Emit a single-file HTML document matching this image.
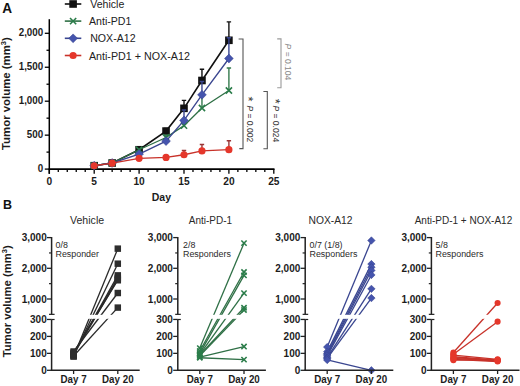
<!DOCTYPE html>
<html><head><meta charset="utf-8"><style>
html,body{margin:0;padding:0;background:#fff;}
svg{display:block;}
text{font-family:"Liberation Sans", sans-serif;}
</style></head><body>
<svg width="520" height="386" viewBox="0 0 520 386" font-family='"Liberation Sans", sans-serif'>
<rect width="520" height="386" fill="#fff"/>
<path d="M49.3,19.2 V173.8" stroke="#000" stroke-width="1.5" fill="none"/>
<path d="M48.599999999999994,169.1 H274.5" stroke="#000" stroke-width="1.6" fill="none"/>
<path d="M44.8,169.10 H49.3" stroke="#000" stroke-width="1.3"/>
<text transform="translate(43.20,171.80) scale(1.0,1.06)" font-size="9.8" text-anchor="end" font-weight="bold" fill="#1c1c1c">0</text>
<path d="M46.5,152.12 H49.3" stroke="#000" stroke-width="1.3"/>
<path d="M44.8,135.15 H49.3" stroke="#000" stroke-width="1.3"/>
<text transform="translate(43.20,137.85) scale(1.0,1.06)" font-size="9.8" text-anchor="end" font-weight="bold" fill="#1c1c1c">500</text>
<path d="M46.5,118.17 H49.3" stroke="#000" stroke-width="1.3"/>
<path d="M44.8,101.20 H49.3" stroke="#000" stroke-width="1.3"/>
<text transform="translate(43.20,103.90) scale(1.0,1.06)" font-size="9.8" text-anchor="end" font-weight="bold" fill="#1c1c1c">1,000</text>
<path d="M46.5,84.22 H49.3" stroke="#000" stroke-width="1.3"/>
<path d="M44.8,67.25 H49.3" stroke="#000" stroke-width="1.3"/>
<text transform="translate(43.20,69.95) scale(1.0,1.06)" font-size="9.8" text-anchor="end" font-weight="bold" fill="#1c1c1c">1,500</text>
<path d="M46.5,50.27 H49.3" stroke="#000" stroke-width="1.3"/>
<path d="M44.8,33.30 H49.3" stroke="#000" stroke-width="1.3"/>
<text transform="translate(43.20,36.00) scale(1.0,1.06)" font-size="9.8" text-anchor="end" font-weight="bold" fill="#1c1c1c">2,000</text>
<path d="M49.30,169.1 V173.8" stroke="#000" stroke-width="1.3"/>
<text transform="translate(49.30,184.80)" font-size="10.2" text-anchor="middle" font-weight="bold" fill="#1c1c1c">0</text>
<path d="M58.28,169.1 V171.9" stroke="#000" stroke-width="1.3"/>
<path d="M67.26,169.1 V171.9" stroke="#000" stroke-width="1.3"/>
<path d="M76.24,169.1 V171.9" stroke="#000" stroke-width="1.3"/>
<path d="M85.22,169.1 V171.9" stroke="#000" stroke-width="1.3"/>
<path d="M94.20,169.1 V173.8" stroke="#000" stroke-width="1.3"/>
<text transform="translate(94.20,184.80)" font-size="10.2" text-anchor="middle" font-weight="bold" fill="#1c1c1c">5</text>
<path d="M103.18,169.1 V171.9" stroke="#000" stroke-width="1.3"/>
<path d="M112.16,169.1 V171.9" stroke="#000" stroke-width="1.3"/>
<path d="M121.14,169.1 V171.9" stroke="#000" stroke-width="1.3"/>
<path d="M130.12,169.1 V171.9" stroke="#000" stroke-width="1.3"/>
<path d="M139.10,169.1 V173.8" stroke="#000" stroke-width="1.3"/>
<text transform="translate(139.10,184.80)" font-size="10.2" text-anchor="middle" font-weight="bold" fill="#1c1c1c">10</text>
<path d="M148.08,169.1 V171.9" stroke="#000" stroke-width="1.3"/>
<path d="M157.06,169.1 V171.9" stroke="#000" stroke-width="1.3"/>
<path d="M166.04,169.1 V171.9" stroke="#000" stroke-width="1.3"/>
<path d="M175.02,169.1 V171.9" stroke="#000" stroke-width="1.3"/>
<path d="M184.00,169.1 V173.8" stroke="#000" stroke-width="1.3"/>
<text transform="translate(184.00,184.80)" font-size="10.2" text-anchor="middle" font-weight="bold" fill="#1c1c1c">15</text>
<path d="M192.98,169.1 V171.9" stroke="#000" stroke-width="1.3"/>
<path d="M201.96,169.1 V171.9" stroke="#000" stroke-width="1.3"/>
<path d="M210.94,169.1 V171.9" stroke="#000" stroke-width="1.3"/>
<path d="M219.92,169.1 V171.9" stroke="#000" stroke-width="1.3"/>
<path d="M228.90,169.1 V173.8" stroke="#000" stroke-width="1.3"/>
<text transform="translate(228.90,184.80)" font-size="10.2" text-anchor="middle" font-weight="bold" fill="#1c1c1c">20</text>
<path d="M237.88,169.1 V171.9" stroke="#000" stroke-width="1.3"/>
<path d="M246.86,169.1 V171.9" stroke="#000" stroke-width="1.3"/>
<path d="M255.84,169.1 V171.9" stroke="#000" stroke-width="1.3"/>
<path d="M264.82,169.1 V171.9" stroke="#000" stroke-width="1.3"/>
<path d="M273.80,169.1 V173.8" stroke="#000" stroke-width="1.3"/>
<text transform="translate(273.80,184.80)" font-size="10.2" text-anchor="middle" font-weight="bold" fill="#1c1c1c">25</text>
<text transform="translate(161.40,200.60)" font-size="10.5" text-anchor="middle" font-weight="bold" fill="#1c1c1c">Day</text>
<text transform="translate(10.40,93.60) rotate(-90)" font-size="11.4" text-anchor="middle" font-weight="bold" fill="#1c1c1c">Tumor volume (mm<tspan font-size="7.5" dy="-4">3</tspan><tspan dy="4">)</tspan></text>
<text transform="translate(2.20,13.00) scale(1.0,1.04)" font-size="13.6" font-weight="bold" fill="#111">A</text>
<path d="M139.10,149.75 V148.05 M136.90,148.05 H141.30" stroke="#111" stroke-width="1.4" fill="none"/>
<path d="M166.04,131.08 V128.36 M163.84,128.36 H168.24" stroke="#111" stroke-width="1.4" fill="none"/>
<path d="M184.00,108.33 V100.39 M181.80,100.39 H186.20" stroke="#111" stroke-width="1.4" fill="none"/>
<path d="M201.96,80.49 V69.29 M199.76,69.29 H204.16" stroke="#111" stroke-width="1.4" fill="none"/>
<path d="M228.90,40.29 V21.89 M226.70,21.89 H231.10" stroke="#111" stroke-width="1.4" fill="none"/>
<polyline points="94.20,165.70 112.16,162.99 139.10,149.75 166.04,131.08 184.00,108.33 201.96,80.49 228.90,40.29" stroke="#111" stroke-width="1.6" fill="none"/>
<rect x="90.40" y="161.90" width="7.60" height="7.60" fill="#111"/>
<rect x="108.36" y="159.19" width="7.60" height="7.60" fill="#111"/>
<rect x="135.30" y="145.95" width="7.60" height="7.60" fill="#111"/>
<rect x="162.24" y="127.28" width="7.60" height="7.60" fill="#111"/>
<rect x="180.20" y="104.53" width="7.60" height="7.60" fill="#111"/>
<rect x="198.16" y="76.69" width="7.60" height="7.60" fill="#111"/>
<rect x="225.10" y="36.49" width="7.60" height="7.60" fill="#111"/>
<path d="M166.04,137.53 V135.15 M163.84,135.15 H168.24" stroke="#357a4e" stroke-width="1.4" fill="none"/>
<path d="M184.00,125.64 V120.21 M181.80,120.21 H186.20" stroke="#357a4e" stroke-width="1.4" fill="none"/>
<path d="M201.96,107.99 V95.09 M199.76,95.09 H204.16" stroke="#357a4e" stroke-width="1.4" fill="none"/>
<path d="M228.90,90.47 V68.06 M226.70,68.06 H231.10" stroke="#357a4e" stroke-width="1.4" fill="none"/>
<polyline points="94.20,165.70 112.16,162.99 139.10,149.75 166.04,137.53 184.00,125.64 201.96,107.99 228.90,90.47" stroke="#2f7046" stroke-width="1.35" fill="none"/>
<path d="M91.10,162.60 L97.30,168.80 M91.10,168.80 L97.30,162.60" stroke="#2b7d4a" stroke-width="1.6" fill="none"/>
<path d="M109.06,159.89 L115.26,166.09 M109.06,166.09 L115.26,159.89" stroke="#2b7d4a" stroke-width="1.6" fill="none"/>
<path d="M136.00,146.65 L142.20,152.85 M136.00,152.85 L142.20,146.65" stroke="#2b7d4a" stroke-width="1.6" fill="none"/>
<path d="M162.94,134.43 L169.14,140.63 M162.94,140.63 L169.14,134.43" stroke="#2b7d4a" stroke-width="1.6" fill="none"/>
<path d="M180.90,122.54 L187.10,128.74 M180.90,128.74 L187.10,122.54" stroke="#2b7d4a" stroke-width="1.6" fill="none"/>
<path d="M198.86,104.89 L205.06,111.09 M198.86,111.09 L205.06,104.89" stroke="#2b7d4a" stroke-width="1.6" fill="none"/>
<path d="M225.80,87.37 L232.00,93.57 M225.80,93.57 L232.00,87.37" stroke="#2b7d4a" stroke-width="1.6" fill="none"/>
<path d="M166.04,141.13 V139.22 M163.84,139.22 H168.24" stroke="#3a4690" stroke-width="1.4" fill="none"/>
<path d="M184.00,120.42 V110.03 M181.80,110.03 H186.20" stroke="#3a4690" stroke-width="1.4" fill="none"/>
<path d="M201.96,94.82 V81.51 M199.76,81.51 H204.16" stroke="#3a4690" stroke-width="1.4" fill="none"/>
<path d="M228.90,58.49 V37.71 M226.70,37.71 H231.10" stroke="#3a4690" stroke-width="1.4" fill="none"/>
<polyline points="94.20,165.70 112.16,162.99 139.10,154.03 166.04,141.13 184.00,120.42 201.96,94.82 228.90,58.49" stroke="#3a4690" stroke-width="1.35" fill="none"/>
<path d="M94.20,161.30 L98.60,165.70 L94.20,170.10 L89.80,165.70 Z" fill="#4554ad" stroke="#34408a" stroke-width="0.5"/>
<path d="M112.16,158.59 L116.56,162.99 L112.16,167.39 L107.76,162.99 Z" fill="#4554ad" stroke="#34408a" stroke-width="0.5"/>
<path d="M139.10,149.63 L143.50,154.03 L139.10,158.43 L134.70,154.03 Z" fill="#4554ad" stroke="#34408a" stroke-width="0.5"/>
<path d="M166.04,136.73 L170.44,141.13 L166.04,145.53 L161.64,141.13 Z" fill="#4554ad" stroke="#34408a" stroke-width="0.5"/>
<path d="M184.00,116.02 L188.40,120.42 L184.00,124.82 L179.60,120.42 Z" fill="#4554ad" stroke="#34408a" stroke-width="0.5"/>
<path d="M201.96,90.42 L206.36,94.82 L201.96,99.22 L197.56,94.82 Z" fill="#4554ad" stroke="#34408a" stroke-width="0.5"/>
<path d="M228.90,54.09 L233.30,58.49 L228.90,62.89 L224.50,58.49 Z" fill="#4554ad" stroke="#34408a" stroke-width="0.5"/>
<path d="M184.00,154.77 V150.50 M181.80,150.50 H186.20" stroke="#9a3535" stroke-width="1.4" fill="none"/>
<path d="M201.96,150.90 V144.52 M199.76,144.52 H204.16" stroke="#9a3535" stroke-width="1.4" fill="none"/>
<path d="M228.90,149.68 V140.79 M226.70,140.79 H231.10" stroke="#9a3535" stroke-width="1.4" fill="none"/>
<polyline points="94.20,165.77 112.16,163.19 139.10,158.37 166.04,157.42 184.00,154.77 201.96,150.90 228.90,149.68" stroke="#c8322a" stroke-width="1.35" fill="none"/>
<circle cx="94.20" cy="165.77" r="3.60" fill="#e5372b"/>
<circle cx="112.16" cy="163.19" r="3.60" fill="#e5372b"/>
<circle cx="139.10" cy="158.37" r="3.60" fill="#e5372b"/>
<circle cx="166.04" cy="157.42" r="3.60" fill="#e5372b"/>
<circle cx="184.00" cy="154.77" r="3.60" fill="#e5372b"/>
<circle cx="201.96" cy="150.90" r="3.60" fill="#e5372b"/>
<circle cx="228.90" cy="149.68" r="3.60" fill="#e5372b"/>
<path d="M64.8,4.0 H81.3" stroke="#111" stroke-width="1.6"/>
<rect x="69.30" y="0.20" width="7.60" height="7.60" fill="#111"/>
<text transform="translate(90.20,8.00)" font-size="10.6" fill="#222">Vehicle</text>
<path d="M64.8,21.1 H81.3" stroke="#2f7046" stroke-width="1.6"/>
<path d="M70.00,18.00 L76.20,24.20 M70.00,24.20 L76.20,18.00" stroke="#2b7d4a" stroke-width="1.6" fill="none"/>
<text transform="translate(89.00,25.10)" font-size="10.6" fill="#222">Anti-PD1</text>
<path d="M64.8,38.3 H81.3" stroke="#3a4690" stroke-width="1.6"/>
<path d="M73.10,33.90 L77.50,38.30 L73.10,42.70 L68.70,38.30 Z" fill="#4554ad" stroke="#34408a" stroke-width="0.5"/>
<text transform="translate(90.20,42.30)" font-size="10.6" fill="#222">NOX-A12</text>
<path d="M64.8,55.5 H81.3" stroke="#c8322a" stroke-width="1.6"/>
<circle cx="73.10" cy="55.50" r="3.60" fill="#e5372b"/>
<text transform="translate(88.90,59.50) scale(1.012,1.0)" font-size="10.6" fill="#222">Anti-PD1 + NOX-A12</text>
<path d="M238.6,39.0 H243 V148.6 H239.3" stroke="#555" stroke-width="1.1" fill="none"/>
<path d="M277.2,38.9 H281 V87.8 H277.2" stroke="#9a9a9a" stroke-width="1.1" fill="none"/>
<path d="M263.4,91.5 H267.3 V148.8 H263.4" stroke="#555" stroke-width="1.1" fill="none"/>
<text transform="translate(246.50,105.50) rotate(90)" font-size="8.5" fill="#333"><tspan font-style="italic">P</tspan> = 0.002</text>
<text transform="translate(272.70,105.50) rotate(90)" font-size="8.5" fill="#333"><tspan font-style="italic">P</tspan> = 0.024</text>
<text transform="translate(285.00,43.60) rotate(90)" font-size="8.5" fill="#888"><tspan font-style="italic">P</tspan> = 0.104</text>
<text transform="translate(243.70,96.50) rotate(90)" font-size="13" fill="#333">*</text>
<text transform="translate(270.70,98.80) rotate(90)" font-size="13" fill="#333">*</text>
<text transform="translate(3.00,209.00)" font-size="12.5" font-weight="bold" fill="#111">B</text>
<text transform="translate(11.30,301.30) rotate(-90)" font-size="11.3" text-anchor="middle" font-weight="bold" fill="#1c1c1c">Tumor volume (mm<tspan font-size="7.5" dy="-4">3</tspan><tspan dy="4">)</tspan></text>
<path d="M73.60,356.57 L117.80,248.65" stroke="#2a2a2a" stroke-width="1.3" fill="none"/>
<path d="M73.60,355.38 L117.80,263.69" stroke="#2a2a2a" stroke-width="1.3" fill="none"/>
<path d="M73.60,354.20 L117.80,275.36" stroke="#2a2a2a" stroke-width="1.3" fill="none"/>
<path d="M73.60,353.35 L117.80,277.82" stroke="#2a2a2a" stroke-width="1.3" fill="none"/>
<path d="M73.60,352.50 L117.80,280.27" stroke="#2a2a2a" stroke-width="1.3" fill="none"/>
<path d="M73.60,351.49 L117.80,293.01" stroke="#2a2a2a" stroke-width="1.3" fill="none"/>
<path d="M73.60,356.06 L117.80,307.60" stroke="#2a2a2a" stroke-width="1.3" fill="none"/>
<path d="M73.60,354.71 L117.80,279.05" stroke="#2a2a2a" stroke-width="1.3" fill="none"/>
<rect x="55.10" y="314.8" width="86.00" height="4.0" fill="#fff"/>
<rect x="70.37" y="353.34" width="6.46" height="6.46" fill="#2e2e2e"/>
<rect x="70.37" y="352.15" width="6.46" height="6.46" fill="#2e2e2e"/>
<rect x="70.37" y="350.97" width="6.46" height="6.46" fill="#2e2e2e"/>
<rect x="70.37" y="350.12" width="6.46" height="6.46" fill="#2e2e2e"/>
<rect x="70.37" y="349.27" width="6.46" height="6.46" fill="#2e2e2e"/>
<rect x="70.37" y="348.26" width="6.46" height="6.46" fill="#2e2e2e"/>
<rect x="70.37" y="352.83" width="6.46" height="6.46" fill="#2e2e2e"/>
<rect x="70.37" y="351.48" width="6.46" height="6.46" fill="#2e2e2e"/>
<rect x="114.57" y="245.42" width="6.46" height="6.46" fill="#2e2e2e"/>
<rect x="114.57" y="260.46" width="6.46" height="6.46" fill="#2e2e2e"/>
<rect x="114.57" y="272.13" width="6.46" height="6.46" fill="#2e2e2e"/>
<rect x="114.57" y="274.59" width="6.46" height="6.46" fill="#2e2e2e"/>
<rect x="114.57" y="277.04" width="6.46" height="6.46" fill="#2e2e2e"/>
<rect x="114.57" y="289.78" width="6.46" height="6.46" fill="#2e2e2e"/>
<rect x="114.57" y="304.37" width="6.46" height="6.46" fill="#2e2e2e"/>
<rect x="114.57" y="275.81" width="6.46" height="6.46" fill="#2e2e2e"/>
<path d="M51.6,237.0 V314.35 M51.6,319.5 V370.3" stroke="#222" stroke-width="1.5" fill="none"/>
<path d="M49.0,314.35 H54.6" stroke="#222" stroke-width="1.2"/>
<path d="M50.9,370.3 H139.7" stroke="#222" stroke-width="1.5"/>
<path d="M47.0,237.60 H51.6" stroke="#222" stroke-width="1.3"/>
<text transform="translate(46.70,241.20)" font-size="10.0" text-anchor="end" font-weight="bold" fill="#1c1c1c">3,000</text>
<path d="M47.0,268.30 H51.6" stroke="#222" stroke-width="1.3"/>
<text transform="translate(46.70,271.90)" font-size="10.0" text-anchor="end" font-weight="bold" fill="#1c1c1c">2,000</text>
<path d="M47.0,299.00 H51.6" stroke="#222" stroke-width="1.3"/>
<text transform="translate(46.70,302.60)" font-size="10.0" text-anchor="end" font-weight="bold" fill="#1c1c1c">1,000</text>
<path d="M49.0,252.95 H51.6" stroke="#222" stroke-width="1.2"/>
<path d="M49.0,283.65 H51.6" stroke="#222" stroke-width="1.2"/>
<path d="M47.0,319.45 H51.6" stroke="#222" stroke-width="1.3"/>
<text transform="translate(46.70,323.05)" font-size="10.0" text-anchor="end" font-weight="bold" fill="#1c1c1c">300</text>
<path d="M47.0,336.40 H51.6" stroke="#222" stroke-width="1.3"/>
<text transform="translate(46.70,340.00)" font-size="10.0" text-anchor="end" font-weight="bold" fill="#1c1c1c">200</text>
<path d="M47.0,353.35 H51.6" stroke="#222" stroke-width="1.3"/>
<text transform="translate(46.70,356.95)" font-size="10.0" text-anchor="end" font-weight="bold" fill="#1c1c1c">100</text>
<path d="M47.0,370.30 H51.6" stroke="#222" stroke-width="1.3"/>
<text transform="translate(46.70,373.90)" font-size="10.0" text-anchor="end" font-weight="bold" fill="#1c1c1c">0</text>
<path d="M51.6,319.5 H54.6" stroke="#222" stroke-width="1.2"/>
<path d="M73.60,370.3 V374" stroke="#222" stroke-width="1.3"/>
<text transform="translate(73.60,383.20) scale(1.0,1.15)" font-size="9.8" text-anchor="middle" font-weight="bold" fill="#1c1c1c">Day 7</text>
<path d="M117.80,370.3 V374" stroke="#222" stroke-width="1.3"/>
<text transform="translate(117.80,383.20) scale(1.0,1.15)" font-size="9.8" text-anchor="middle" font-weight="bold" fill="#1c1c1c">Day 20</text>
<text transform="translate(70.00,223.90) scale(1.06,1.0)" font-size="10" fill="#2a2a2a">Vehicle</text>
<text transform="translate(55.50,248.00)" font-size="8.9" fill="#2a2a2a">0/8</text>
<text transform="translate(55.50,256.70)" font-size="8.9" fill="#2a2a2a">Responder</text>
<path d="M199.80,348.10 L244.00,243.13" stroke="#2f7046" stroke-width="1.3" fill="none"/>
<path d="M199.80,350.98 L244.00,271.98" stroke="#2f7046" stroke-width="1.3" fill="none"/>
<path d="M199.80,353.35 L244.00,275.36" stroke="#2f7046" stroke-width="1.3" fill="none"/>
<path d="M199.80,354.37 L244.00,293.17" stroke="#2f7046" stroke-width="1.3" fill="none"/>
<path d="M199.80,355.05 L244.00,307.75" stroke="#2f7046" stroke-width="1.3" fill="none"/>
<path d="M199.80,355.89 L244.00,310.05" stroke="#2f7046" stroke-width="1.3" fill="none"/>
<path d="M199.80,357.08 L244.00,346.57" stroke="#2f7046" stroke-width="1.3" fill="none"/>
<path d="M199.80,357.76 L244.00,359.62" stroke="#2f7046" stroke-width="1.3" fill="none"/>
<rect x="181.30" y="314.8" width="86.00" height="4.0" fill="#fff"/>
<path d="M197.17,345.46 L202.44,350.73 M197.17,350.73 L202.44,345.46" stroke="#2b7d4a" stroke-width="1.6" fill="none"/>
<path d="M197.17,348.34 L202.44,353.61 M197.17,353.61 L202.44,348.34" stroke="#2b7d4a" stroke-width="1.6" fill="none"/>
<path d="M197.17,350.72 L202.44,355.99 M197.17,355.99 L202.44,350.72" stroke="#2b7d4a" stroke-width="1.6" fill="none"/>
<path d="M197.17,351.73 L202.44,357.00 M197.17,357.00 L202.44,351.73" stroke="#2b7d4a" stroke-width="1.6" fill="none"/>
<path d="M197.17,352.41 L202.44,357.68 M197.17,357.68 L202.44,352.41" stroke="#2b7d4a" stroke-width="1.6" fill="none"/>
<path d="M197.17,353.26 L202.44,358.53 M197.17,358.53 L202.44,353.26" stroke="#2b7d4a" stroke-width="1.6" fill="none"/>
<path d="M197.17,354.44 L202.44,359.71 M197.17,359.71 L202.44,354.44" stroke="#2b7d4a" stroke-width="1.6" fill="none"/>
<path d="M197.17,355.12 L202.44,360.39 M197.17,360.39 L202.44,355.12" stroke="#2b7d4a" stroke-width="1.6" fill="none"/>
<path d="M241.37,240.49 L246.63,245.76 M241.37,245.76 L246.63,240.49" stroke="#2b7d4a" stroke-width="1.6" fill="none"/>
<path d="M241.37,269.35 L246.63,274.62 M241.37,274.62 L246.63,269.35" stroke="#2b7d4a" stroke-width="1.6" fill="none"/>
<path d="M241.37,272.73 L246.63,278.00 M241.37,278.00 L246.63,272.73" stroke="#2b7d4a" stroke-width="1.6" fill="none"/>
<path d="M241.37,290.53 L246.63,295.80 M241.37,295.80 L246.63,290.53" stroke="#2b7d4a" stroke-width="1.6" fill="none"/>
<path d="M241.37,305.11 L246.63,310.38 M241.37,310.38 L246.63,305.11" stroke="#2b7d4a" stroke-width="1.6" fill="none"/>
<path d="M241.37,307.42 L246.63,312.69 M241.37,312.69 L246.63,307.42" stroke="#2b7d4a" stroke-width="1.6" fill="none"/>
<path d="M241.37,343.94 L246.63,349.20 M241.37,349.20 L246.63,343.94" stroke="#2b7d4a" stroke-width="1.6" fill="none"/>
<path d="M241.37,356.99 L246.63,362.26 M241.37,362.26 L246.63,356.99" stroke="#2b7d4a" stroke-width="1.6" fill="none"/>
<path d="M177.8,237.0 V314.35 M177.8,319.5 V370.3" stroke="#222" stroke-width="1.5" fill="none"/>
<path d="M175.20000000000002,314.35 H180.8" stroke="#222" stroke-width="1.2"/>
<path d="M177.10000000000002,370.3 H265.9" stroke="#222" stroke-width="1.5"/>
<path d="M173.20000000000002,237.60 H177.8" stroke="#222" stroke-width="1.3"/>
<text transform="translate(172.90,241.20)" font-size="10.0" text-anchor="end" font-weight="bold" fill="#1c1c1c">3,000</text>
<path d="M173.20000000000002,268.30 H177.8" stroke="#222" stroke-width="1.3"/>
<text transform="translate(172.90,271.90)" font-size="10.0" text-anchor="end" font-weight="bold" fill="#1c1c1c">2,000</text>
<path d="M173.20000000000002,299.00 H177.8" stroke="#222" stroke-width="1.3"/>
<text transform="translate(172.90,302.60)" font-size="10.0" text-anchor="end" font-weight="bold" fill="#1c1c1c">1,000</text>
<path d="M175.20000000000002,252.95 H177.8" stroke="#222" stroke-width="1.2"/>
<path d="M175.20000000000002,283.65 H177.8" stroke="#222" stroke-width="1.2"/>
<path d="M173.20000000000002,319.45 H177.8" stroke="#222" stroke-width="1.3"/>
<text transform="translate(172.90,323.05)" font-size="10.0" text-anchor="end" font-weight="bold" fill="#1c1c1c">300</text>
<path d="M173.20000000000002,336.40 H177.8" stroke="#222" stroke-width="1.3"/>
<text transform="translate(172.90,340.00)" font-size="10.0" text-anchor="end" font-weight="bold" fill="#1c1c1c">200</text>
<path d="M173.20000000000002,353.35 H177.8" stroke="#222" stroke-width="1.3"/>
<text transform="translate(172.90,356.95)" font-size="10.0" text-anchor="end" font-weight="bold" fill="#1c1c1c">100</text>
<path d="M173.20000000000002,370.30 H177.8" stroke="#222" stroke-width="1.3"/>
<text transform="translate(172.90,373.90)" font-size="10.0" text-anchor="end" font-weight="bold" fill="#1c1c1c">0</text>
<path d="M177.8,319.5 H180.8" stroke="#222" stroke-width="1.2"/>
<path d="M199.80,370.3 V374" stroke="#222" stroke-width="1.3"/>
<text transform="translate(199.80,383.20) scale(1.0,1.15)" font-size="9.8" text-anchor="middle" font-weight="bold" fill="#1c1c1c">Day 7</text>
<path d="M244.00,370.3 V374" stroke="#222" stroke-width="1.3"/>
<text transform="translate(244.00,383.20) scale(1.0,1.15)" font-size="9.8" text-anchor="middle" font-weight="bold" fill="#1c1c1c">Day 20</text>
<text transform="translate(188.80,223.90)" font-size="10" fill="#2a2a2a">Anti-PD-1</text>
<text transform="translate(183.00,248.00)" font-size="8.9" fill="#2a2a2a">2/8</text>
<text transform="translate(183.00,256.70)" font-size="8.9" fill="#2a2a2a">Responders</text>
<path d="M327.20,347.08 L371.40,240.52" stroke="#3a4690" stroke-width="1.3" fill="none"/>
<path d="M327.20,351.66 L371.40,264.09" stroke="#3a4690" stroke-width="1.3" fill="none"/>
<path d="M327.20,353.52 L371.40,267.23" stroke="#3a4690" stroke-width="1.3" fill="none"/>
<path d="M327.20,354.71 L371.40,270.39" stroke="#3a4690" stroke-width="1.3" fill="none"/>
<path d="M327.20,355.89 L371.40,274.96" stroke="#3a4690" stroke-width="1.3" fill="none"/>
<path d="M327.20,357.59 L371.40,288.87" stroke="#3a4690" stroke-width="1.3" fill="none"/>
<path d="M327.20,358.44 L371.40,298.08" stroke="#3a4690" stroke-width="1.3" fill="none"/>
<path d="M327.20,359.96 L371.40,370.30" stroke="#3a4690" stroke-width="1.3" fill="none"/>
<rect x="308.70" y="314.8" width="86.00" height="4.0" fill="#fff"/>
<path d="M327.20,343.34 L330.94,347.08 L327.20,350.82 L323.46,347.08 Z" fill="#4554ad" stroke="#34408a" stroke-width="0.5"/>
<path d="M327.20,347.92 L330.94,351.66 L327.20,355.40 L323.46,351.66 Z" fill="#4554ad" stroke="#34408a" stroke-width="0.5"/>
<path d="M327.20,349.78 L330.94,353.52 L327.20,357.26 L323.46,353.52 Z" fill="#4554ad" stroke="#34408a" stroke-width="0.5"/>
<path d="M327.20,350.97 L330.94,354.71 L327.20,358.45 L323.46,354.71 Z" fill="#4554ad" stroke="#34408a" stroke-width="0.5"/>
<path d="M327.20,352.15 L330.94,355.89 L327.20,359.63 L323.46,355.89 Z" fill="#4554ad" stroke="#34408a" stroke-width="0.5"/>
<path d="M327.20,353.85 L330.94,357.59 L327.20,361.33 L323.46,357.59 Z" fill="#4554ad" stroke="#34408a" stroke-width="0.5"/>
<path d="M327.20,354.69 L330.94,358.44 L327.20,362.18 L323.46,358.44 Z" fill="#4554ad" stroke="#34408a" stroke-width="0.5"/>
<path d="M327.20,356.22 L330.94,359.96 L327.20,363.70 L323.46,359.96 Z" fill="#4554ad" stroke="#34408a" stroke-width="0.5"/>
<path d="M371.40,236.78 L375.14,240.52 L371.40,244.26 L367.66,240.52 Z" fill="#4554ad" stroke="#34408a" stroke-width="0.5"/>
<path d="M371.40,260.35 L375.14,264.09 L371.40,267.83 L367.66,264.09 Z" fill="#4554ad" stroke="#34408a" stroke-width="0.5"/>
<path d="M371.40,263.49 L375.14,267.23 L371.40,270.97 L367.66,267.23 Z" fill="#4554ad" stroke="#34408a" stroke-width="0.5"/>
<path d="M371.40,266.65 L375.14,270.39 L371.40,274.13 L367.66,270.39 Z" fill="#4554ad" stroke="#34408a" stroke-width="0.5"/>
<path d="M371.40,271.22 L375.14,274.96 L371.40,278.70 L367.66,274.96 Z" fill="#4554ad" stroke="#34408a" stroke-width="0.5"/>
<path d="M371.40,285.13 L375.14,288.87 L371.40,292.61 L367.66,288.87 Z" fill="#4554ad" stroke="#34408a" stroke-width="0.5"/>
<path d="M371.40,294.34 L375.14,298.08 L371.40,301.82 L367.66,298.08 Z" fill="#4554ad" stroke="#34408a" stroke-width="0.5"/>
<path d="M371.40,366.56 L375.14,370.30 L371.40,374.04 L367.66,370.30 Z" fill="#4554ad" stroke="#34408a" stroke-width="0.5"/>
<path d="M305.2,237.0 V314.35 M305.2,319.5 V370.3" stroke="#222" stroke-width="1.5" fill="none"/>
<path d="M302.59999999999997,314.35 H308.2" stroke="#222" stroke-width="1.2"/>
<path d="M304.5,370.3 H393.29999999999995" stroke="#222" stroke-width="1.5"/>
<path d="M300.59999999999997,237.60 H305.2" stroke="#222" stroke-width="1.3"/>
<text transform="translate(300.30,241.20)" font-size="10.0" text-anchor="end" font-weight="bold" fill="#1c1c1c">3,000</text>
<path d="M300.59999999999997,268.30 H305.2" stroke="#222" stroke-width="1.3"/>
<text transform="translate(300.30,271.90)" font-size="10.0" text-anchor="end" font-weight="bold" fill="#1c1c1c">2,000</text>
<path d="M300.59999999999997,299.00 H305.2" stroke="#222" stroke-width="1.3"/>
<text transform="translate(300.30,302.60)" font-size="10.0" text-anchor="end" font-weight="bold" fill="#1c1c1c">1,000</text>
<path d="M302.59999999999997,252.95 H305.2" stroke="#222" stroke-width="1.2"/>
<path d="M302.59999999999997,283.65 H305.2" stroke="#222" stroke-width="1.2"/>
<path d="M300.59999999999997,319.45 H305.2" stroke="#222" stroke-width="1.3"/>
<text transform="translate(300.30,323.05)" font-size="10.0" text-anchor="end" font-weight="bold" fill="#1c1c1c">300</text>
<path d="M300.59999999999997,336.40 H305.2" stroke="#222" stroke-width="1.3"/>
<text transform="translate(300.30,340.00)" font-size="10.0" text-anchor="end" font-weight="bold" fill="#1c1c1c">200</text>
<path d="M300.59999999999997,353.35 H305.2" stroke="#222" stroke-width="1.3"/>
<text transform="translate(300.30,356.95)" font-size="10.0" text-anchor="end" font-weight="bold" fill="#1c1c1c">100</text>
<path d="M300.59999999999997,370.30 H305.2" stroke="#222" stroke-width="1.3"/>
<text transform="translate(300.30,373.90)" font-size="10.0" text-anchor="end" font-weight="bold" fill="#1c1c1c">0</text>
<path d="M305.2,319.5 H308.2" stroke="#222" stroke-width="1.2"/>
<path d="M327.20,370.3 V374" stroke="#222" stroke-width="1.3"/>
<text transform="translate(327.20,383.20) scale(1.0,1.15)" font-size="9.8" text-anchor="middle" font-weight="bold" fill="#1c1c1c">Day 7</text>
<path d="M371.40,370.3 V374" stroke="#222" stroke-width="1.3"/>
<text transform="translate(371.40,383.20) scale(1.0,1.15)" font-size="9.8" text-anchor="middle" font-weight="bold" fill="#1c1c1c">Day 20</text>
<text transform="translate(308.50,223.90) scale(1.03,1.0)" font-size="10" fill="#2a2a2a">NOX-A12</text>
<text transform="translate(309.50,248.00)" font-size="8.9" fill="#2a2a2a">0/7 (1/8)</text>
<text transform="translate(309.50,256.70)" font-size="8.9" fill="#2a2a2a">Responders</text>
<path d="M453.40,352.50 L497.60,303.05" stroke="#c8322a" stroke-width="1.3" fill="none"/>
<path d="M453.40,354.20 L497.60,321.65" stroke="#c8322a" stroke-width="1.3" fill="none"/>
<path d="M453.40,355.05 L497.60,359.28" stroke="#c8322a" stroke-width="1.3" fill="none"/>
<path d="M453.40,356.74 L497.60,360.13" stroke="#c8322a" stroke-width="1.3" fill="none"/>
<path d="M453.40,357.59 L497.60,360.47" stroke="#c8322a" stroke-width="1.3" fill="none"/>
<path d="M453.40,358.44 L497.60,360.98" stroke="#c8322a" stroke-width="1.3" fill="none"/>
<path d="M453.40,359.28 L497.60,361.49" stroke="#c8322a" stroke-width="1.3" fill="none"/>
<path d="M453.40,360.13 L497.60,359.79" stroke="#c8322a" stroke-width="1.3" fill="none"/>
<rect x="434.90" y="314.8" width="86.00" height="4.0" fill="#fff"/>
<circle cx="453.40" cy="352.50" r="3.06" fill="#e5372b"/>
<circle cx="453.40" cy="354.20" r="3.06" fill="#e5372b"/>
<circle cx="453.40" cy="355.05" r="3.06" fill="#e5372b"/>
<circle cx="453.40" cy="356.74" r="3.06" fill="#e5372b"/>
<circle cx="453.40" cy="357.59" r="3.06" fill="#e5372b"/>
<circle cx="453.40" cy="358.44" r="3.06" fill="#e5372b"/>
<circle cx="453.40" cy="359.28" r="3.06" fill="#e5372b"/>
<circle cx="453.40" cy="360.13" r="3.06" fill="#e5372b"/>
<circle cx="497.60" cy="303.05" r="3.06" fill="#e5372b"/>
<circle cx="497.60" cy="321.65" r="3.06" fill="#e5372b"/>
<circle cx="497.60" cy="359.28" r="3.06" fill="#e5372b"/>
<circle cx="497.60" cy="360.13" r="3.06" fill="#e5372b"/>
<circle cx="497.60" cy="360.47" r="3.06" fill="#e5372b"/>
<circle cx="497.60" cy="360.98" r="3.06" fill="#e5372b"/>
<circle cx="497.60" cy="361.49" r="3.06" fill="#e5372b"/>
<circle cx="497.60" cy="359.79" r="3.06" fill="#e5372b"/>
<path d="M431.4,237.0 V314.35 M431.4,319.5 V370.3" stroke="#222" stroke-width="1.5" fill="none"/>
<path d="M428.79999999999995,314.35 H434.4" stroke="#222" stroke-width="1.2"/>
<path d="M430.7,370.3 H519.5" stroke="#222" stroke-width="1.5"/>
<path d="M426.79999999999995,237.60 H431.4" stroke="#222" stroke-width="1.3"/>
<text transform="translate(426.50,241.20)" font-size="10.0" text-anchor="end" font-weight="bold" fill="#1c1c1c">3,000</text>
<path d="M426.79999999999995,268.30 H431.4" stroke="#222" stroke-width="1.3"/>
<text transform="translate(426.50,271.90)" font-size="10.0" text-anchor="end" font-weight="bold" fill="#1c1c1c">2,000</text>
<path d="M426.79999999999995,299.00 H431.4" stroke="#222" stroke-width="1.3"/>
<text transform="translate(426.50,302.60)" font-size="10.0" text-anchor="end" font-weight="bold" fill="#1c1c1c">1,000</text>
<path d="M428.79999999999995,252.95 H431.4" stroke="#222" stroke-width="1.2"/>
<path d="M428.79999999999995,283.65 H431.4" stroke="#222" stroke-width="1.2"/>
<path d="M426.79999999999995,319.45 H431.4" stroke="#222" stroke-width="1.3"/>
<text transform="translate(426.50,323.05)" font-size="10.0" text-anchor="end" font-weight="bold" fill="#1c1c1c">300</text>
<path d="M426.79999999999995,336.40 H431.4" stroke="#222" stroke-width="1.3"/>
<text transform="translate(426.50,340.00)" font-size="10.0" text-anchor="end" font-weight="bold" fill="#1c1c1c">200</text>
<path d="M426.79999999999995,353.35 H431.4" stroke="#222" stroke-width="1.3"/>
<text transform="translate(426.50,356.95)" font-size="10.0" text-anchor="end" font-weight="bold" fill="#1c1c1c">100</text>
<path d="M426.79999999999995,370.30 H431.4" stroke="#222" stroke-width="1.3"/>
<text transform="translate(426.50,373.90)" font-size="10.0" text-anchor="end" font-weight="bold" fill="#1c1c1c">0</text>
<path d="M431.4,319.5 H434.4" stroke="#222" stroke-width="1.2"/>
<path d="M453.40,370.3 V374" stroke="#222" stroke-width="1.3"/>
<text transform="translate(453.40,383.20) scale(1.0,1.15)" font-size="9.8" text-anchor="middle" font-weight="bold" fill="#1c1c1c">Day 7</text>
<path d="M497.60,370.3 V374" stroke="#222" stroke-width="1.3"/>
<text transform="translate(497.60,383.20) scale(1.0,1.15)" font-size="9.8" text-anchor="middle" font-weight="bold" fill="#1c1c1c">Day 20</text>
<text transform="translate(414.70,223.90)" font-size="10" fill="#2a2a2a">Anti-PD-1 + NOX-A12</text>
<text transform="translate(435.50,248.00)" font-size="8.9" fill="#2a2a2a">5/8</text>
<text transform="translate(435.50,256.70)" font-size="8.9" fill="#2a2a2a">Responders</text>
</svg>
</body></html>
